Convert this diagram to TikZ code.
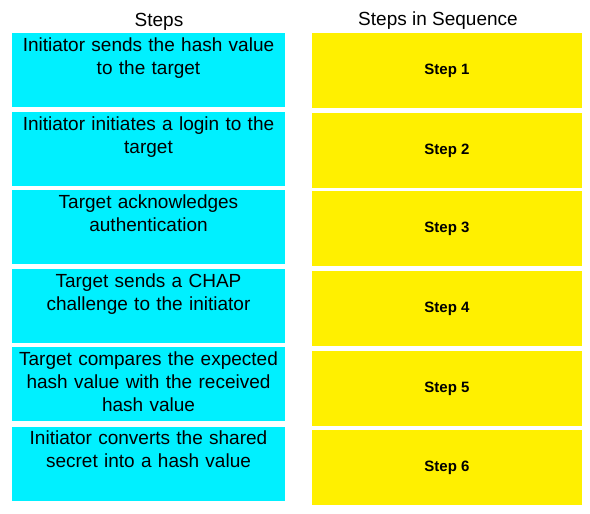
\documentclass[tikz,border=0pt]{standalone}
\usepackage{fontspec}
\setmainfont{Liberation Sans}
\definecolor{boxcyan}{RGB}{0,240,255}
\definecolor{boxyellow}{RGB}{255,240,0}
\tikzset{
    stepbox/.style = {fill = boxcyan, minimum width = 273pt, minimum height = 74pt, inner sep = 0pt},
    seqbox/.style = {fill = boxyellow, minimum width = 270pt, minimum height = 75pt, inner sep = 0pt, font = \fontsize{15}{18}\selectfont\bfseries},
    steptext/.style = {anchor = base, align = center, text width = 280pt, inner sep = 0pt, font = \fontsize{19}{23}\selectfont},
    header/.style = {anchor = base, inner sep = 0pt, font = \fontsize{19}{23}\selectfont}
}
\begin{document}
\begin{tikzpicture}[x = 1pt, y = -1pt]
        \useasboundingbox (0, 0) rectangle (590, 514);
        \node[header] (hsteps) at (159, 27) {Steps};
        \node[header] (hseq) at (438, 25) {Steps in Sequence};
        % left column
        \node[stepbox] (c1) at (148.5, 70) {};
        \node[stepbox] (c2) at (148.5, 149) {};
        \node[stepbox] (c3) at (148.5, 227) {};
        \node[stepbox] (c4) at (148.5, 306) {};
        \node[stepbox] (c5) at (148.5, 384) {};
        \node[stepbox] (c6) at (148.5, 464) {};
        \node[steptext] (t1) at ([yshift = -19pt]c1.north) {Initiator sends the hash value\\to the target};
        \node[steptext] (t2) at ([yshift = -19pt]c2.north) {Initiator initiates a login to the\\target};
        \node[steptext] (t3) at ([yshift = -19pt]c3.north) {Target acknowledges\\authentication};
        \node[steptext] (t4) at ([yshift = -19pt]c4.north) {Target sends a CHAP\\challenge to the initiator};
        \node[steptext] (t5) at ([yshift = -19pt]c5.north) {Target compares the expected\\hash value with the received\\hash value};
        \node[steptext] (t6) at ([yshift = -18pt]c6.north) {Initiator converts the shared\\secret into a hash value};
        % right column
        \node[seqbox] (s1) at (447, 70.5) {Step 1};
        \node[seqbox] (s2) at (447, 150.5) {Step 2};
        \node[seqbox] (s3) at (447, 228.5) {Step 3};
        \node[seqbox] (s4) at (447, 308.5) {Step 4};
        \node[seqbox] (s5) at (447, 388.5) {Step 5};
        \node[seqbox] (s6) at (447, 467.5) {Step 6};
    \end{tikzpicture}
\end{document}
